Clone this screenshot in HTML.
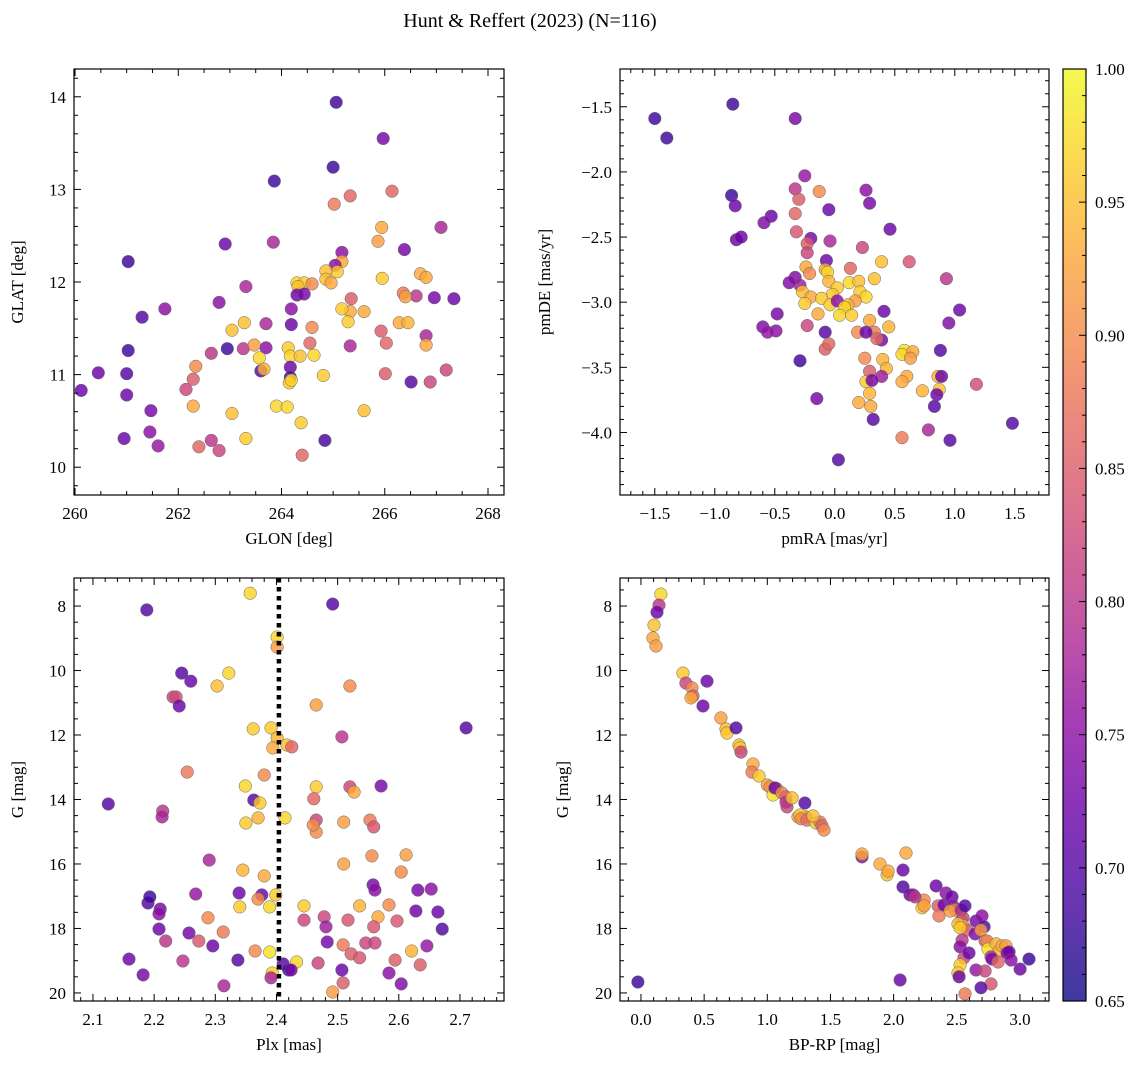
<!DOCTYPE html>
<html><head><meta charset="utf-8"><title>Hunt & Reffert (2023)</title>
<style>
html,body{margin:0;padding:0;background:#fff;}
svg{display:block;font-family:"Liberation Serif","DejaVu Serif",serif;}
</style></head>
<body>
<svg id="chart" width="1148" height="1068" viewBox="0 0 1148 1068" xmlns="http://www.w3.org/2000/svg">
<defs>
<linearGradient id="plasma" x1="0" y1="1" x2="0" y2="0">
<stop offset="0" stop-color="#0d0887"/><stop offset="0.1" stop-color="#41049d"/><stop offset="0.2" stop-color="#6a00a8"/><stop offset="0.3" stop-color="#8f0da4"/><stop offset="0.4" stop-color="#b12a90"/><stop offset="0.5" stop-color="#cc4778"/><stop offset="0.6" stop-color="#e16462"/><stop offset="0.7" stop-color="#f2844b"/><stop offset="0.8" stop-color="#fca636"/><stop offset="0.9" stop-color="#fcce25"/><stop offset="1" stop-color="#f0f921"/>
</linearGradient>
</defs>
<text x="530" y="27" font-size="20" text-anchor="middle">Hunt &amp; Reffert (2023) (N=116)</text>
</svg>
<script>
// ---- Panel 1: GLON / GLAT ----
const glonA=[265.06,265.97,265.00,263.86,265.33,266.14,265.02,265.94,267.09,261.03,262.91,263.84,265.17,265.87,266.38,265.17,263.31,265.04,265.08,264.86,264.86,264.96,264.30,264.44,264.32,264.59,265.95,266.69,266.80,264.30,264.44,266.96,267.34,266.36,266.61,266.40,261.74,261.30,262.79,265.35,265.33,265.17,265.29,265.60,266.28,266.45,266.80,264.19,263.70,263.28,263.04,264.19,264.59,263.70,263.26,263.47,265.33,265.93,266.03,266.80,264.55,264.13,264.17,264.63,264.36,263.57,263.60,263.66,264.17,264.17,264.15,264.19,264.81,262.64,262.95,262.34,262.29,262.15,261.03,260.45,261.00,260.12,261.00,261.47,261.45,261.61,260.95,262.29,263.04,263.90,264.11,265.60,264.38,263.31,262.40,262.64,262.79,264.40,264.84,266.51,267.19,266.88,266.01];
const glatA=[13.94,13.55,13.24,13.09,12.93,12.98,12.84,12.59,12.59,12.22,12.41,12.43,12.32,12.44,12.35,12.22,11.95,12.18,12.11,12.12,12.03,11.99,11.99,11.99,11.95,11.98,12.04,12.09,12.05,11.86,11.87,11.83,11.82,11.88,11.85,11.84,11.71,11.62,11.78,11.82,11.68,11.71,11.57,11.68,11.56,11.56,11.42,11.54,11.55,11.56,11.48,11.71,11.51,11.29,11.28,11.32,11.31,11.47,11.34,11.32,11.34,11.29,11.20,11.21,11.20,11.18,11.04,11.06,11.08,10.97,10.91,10.94,10.99,11.23,11.28,11.09,10.95,10.84,11.26,11.02,11.01,10.83,10.78,10.61,10.38,10.23,10.31,10.66,10.58,10.66,10.65,10.61,10.48,10.31,10.22,10.29,10.18,10.13,10.29,10.92,11.05,10.92,11.01];
const probA=[0.68,0.73,0.68,0.68,0.86,0.86,0.88,0.93,0.78,0.68,0.72,0.78,0.75,0.92,0.73,0.93,0.78,0.75,0.96,0.95,0.95,0.93,0.97,0.96,0.95,0.9,0.96,0.93,0.93,0.72,0.73,0.73,0.72,0.88,0.8,0.92,0.75,0.7,0.75,0.85,0.93,0.96,0.96,0.93,0.93,0.94,0.78,0.72,0.78,0.95,0.95,0.75,0.9,0.75,0.8,0.92,0.78,0.85,0.86,0.93,0.86,0.96,0.97,0.97,0.95,0.97,0.7,0.94,0.72,0.68,0.96,0.97,0.96,0.8,0.68,0.9,0.85,0.82,0.68,0.72,0.7,0.72,0.72,0.73,0.75,0.76,0.72,0.93,0.95,0.97,0.97,0.95,0.96,0.96,0.86,0.8,0.82,0.86,0.69,0.7,0.82,0.82,0.85];
// ---- Panel 2: pmRA / pmDE ----
const pmraB=[-1.50,-1.40,-0.85,-0.33,-0.86,-0.83,-0.82,-0.78,-0.53,-0.59,-0.33,-0.25,-0.30,-0.13,-0.05,0.26,0.29,-0.33,-0.20,-0.32,-0.23,-0.23,-0.04,0.23,0.46,0.39,0.13,-0.07,-0.08,-0.24,-0.21,-0.33,-0.29,-0.38,-0.27,-0.20,-0.06,-0.05,0.02,-0.02,0.12,0.20,0.33,0.21,0.26,0.17,0.11,-0.11,-0.04,0.02,0.08,0.14,-0.25,-0.14,0.04,-0.48,-0.49,-0.60,-0.56,-0.23,-0.08,-0.08,-0.05,0.19,0.33,0.41,0.45,0.39,0.29,0.26,0.35,0.58,0.56,0.65,0.95,1.04,0.93,0.62,-0.29,0.25,0.40,0.43,0.29,0.39,0.63,0.60,0.26,0.29,0.31,0.56,0.86,0.73,0.87,0.85,0.89,0.83,1.18,1.48,0.96,0.78,0.56,0.20,0.30,0.32,-0.15,0.03,0.88];
const pmdeB=[-1.59,-1.74,-1.48,-1.59,-2.18,-2.26,-2.52,-2.50,-2.34,-2.39,-2.13,-2.03,-2.21,-2.15,-2.29,-2.14,-2.24,-2.32,-2.51,-2.46,-2.55,-2.62,-2.53,-2.58,-2.44,-2.69,-2.74,-2.68,-2.75,-2.73,-2.78,-2.81,-2.87,-2.85,-2.92,-2.96,-2.77,-2.84,-2.89,-2.94,-2.85,-2.84,-2.82,-2.92,-2.96,-2.99,-3.02,-2.97,-3.02,-2.99,-3.04,-3.10,-3.01,-3.09,-3.10,-3.09,-3.22,-3.19,-3.23,-3.18,-3.23,-3.36,-3.32,-3.23,-3.23,-3.07,-3.19,-3.29,-3.14,-3.23,-3.28,-3.37,-3.40,-3.38,-3.16,-3.06,-2.82,-2.69,-3.45,-3.43,-3.44,-3.51,-3.53,-3.57,-3.43,-3.57,-3.61,-3.70,-3.60,-3.61,-3.57,-3.68,-3.67,-3.71,-3.57,-3.80,-3.63,-3.93,-4.06,-3.98,-4.04,-3.77,-3.80,-3.90,-3.74,-4.21,-3.37];
const probB=[0.68,0.68,0.68,0.73,0.68,0.72,0.72,0.72,0.72,0.74,0.8,0.76,0.85,0.9,0.72,0.75,0.73,0.86,0.73,0.84,0.85,0.82,0.78,0.82,0.72,0.95,0.86,0.72,0.93,0.93,0.9,0.74,0.77,0.74,0.95,0.93,0.97,0.94,0.96,0.96,0.97,0.95,0.95,0.96,0.97,0.92,0.94,0.96,0.96,0.75,0.97,0.96,0.96,0.93,0.97,0.73,0.75,0.74,0.76,0.82,0.7,0.85,0.86,0.9,0.88,0.72,0.94,0.73,0.93,0.72,0.86,0.98,0.97,0.93,0.74,0.72,0.8,0.84,0.68,0.9,0.94,0.94,0.85,0.77,0.92,0.93,0.96,0.94,0.73,0.93,0.94,0.94,0.95,0.72,0.72,0.7,0.83,0.7,0.7,0.78,0.88,0.93,0.93,0.7,0.73,0.7,0.7];
// ---- Panel 3: Plx / G ----
const plxC=[2.357,2.492,2.188,2.401,2.401,2.322,2.303,2.520,2.245,2.260,2.231,2.236,2.241,2.465,2.391,2.362,2.401,2.394,2.417,2.425,2.507,2.710,2.254,2.465,2.380,2.349,2.461,2.520,2.527,2.571,2.363,2.373,2.125,2.214,2.213,2.370,2.350,2.414,2.465,2.465,2.510,2.553,2.559,2.460,2.290,2.556,2.510,2.612,2.604,2.558,2.380,2.345,2.376,2.370,2.389,2.399,2.339,2.268,2.288,2.340,2.445,2.445,2.478,2.481,2.517,2.536,2.584,2.561,2.631,2.653,2.664,2.671,2.628,2.597,2.566,2.559,2.190,2.193,2.210,2.208,2.208,2.257,2.219,2.273,2.296,2.313,2.159,2.182,2.247,2.337,2.365,2.389,2.411,2.433,2.393,2.420,2.468,2.483,2.509,2.507,2.522,2.536,2.546,2.561,2.584,2.594,2.621,2.635,2.646,2.604,2.509,2.492,2.314,2.391,2.424];
const gC=[7.60,7.94,8.12,8.96,9.27,10.08,10.48,10.48,10.08,10.33,10.82,10.82,11.10,11.07,11.78,11.81,12.09,12.40,12.31,12.37,12.06,11.78,13.15,13.61,13.24,13.58,13.98,13.61,13.77,13.58,14.02,14.11,14.14,14.36,14.54,14.57,14.73,14.57,14.64,15.01,14.70,14.64,14.85,14.79,15.88,15.75,16.00,15.72,16.25,16.65,16.37,16.19,16.96,17.09,17.33,16.96,16.90,16.93,17.67,17.33,17.30,17.74,17.64,17.95,17.74,17.30,17.27,16.81,16.81,16.78,17.49,18.02,17.46,17.77,17.64,17.95,17.21,17.02,17.40,17.55,18.02,18.14,18.39,18.39,18.54,18.11,18.95,19.44,19.01,18.98,18.70,18.73,19.10,19.04,19.38,19.29,19.07,18.42,18.51,19.29,18.79,18.91,18.45,18.45,19.38,18.98,18.70,19.13,18.54,19.72,19.69,19.97,19.78,19.53,19.29];
const probC=[0.97,0.7,0.7,0.97,0.92,0.97,0.95,0.9,0.7,0.72,0.82,0.83,0.72,0.92,0.96,0.96,0.94,0.93,0.95,0.86,0.8,0.7,0.88,0.96,0.9,0.97,0.86,0.82,0.93,0.73,0.7,0.96,0.7,0.8,0.78,0.94,0.96,0.97,0.82,0.9,0.92,0.88,0.84,0.9,0.78,0.9,0.92,0.92,0.9,0.73,0.93,0.94,0.72,0.9,0.97,0.96,0.72,0.76,0.9,0.96,0.96,0.82,0.82,0.77,0.84,0.94,0.9,0.75,0.73,0.75,0.72,0.7,0.72,0.84,0.93,0.84,0.7,0.68,0.73,0.75,0.72,0.73,0.8,0.84,0.72,0.88,0.72,0.73,0.8,0.7,0.9,0.98,0.7,0.97,0.96,0.68,0.82,0.73,0.88,0.72,0.85,0.84,0.82,0.82,0.75,0.85,0.94,0.85,0.76,0.74,0.85,0.92,0.78,0.78,0.73];
// ---- Panel 4: BP-RP / G ----
const bprpD=[0.158,0.143,0.127,0.103,0.095,0.119,0.333,0.356,0.404,0.412,0.396,0.491,0.523,0.633,0.673,0.681,0.752,0.776,0.784,0.792,0.887,0.879,0.934,1.000,1.021,1.077,1.045,1.061,1.116,1.148,1.156,1.148,1.196,1.298,1.243,1.306,1.259,1.267,1.314,1.386,1.417,1.433,1.449,1.362,1.750,1.750,1.892,1.948,1.956,2.098,2.074,2.074,2.130,2.154,2.241,2.225,2.241,2.169,2.336,2.352,2.359,2.399,2.415,2.462,2.470,2.486,2.447,2.534,2.550,2.534,2.565,2.550,2.581,2.510,2.526,2.542,2.526,2.557,2.597,2.645,2.652,2.700,2.716,2.692,2.724,2.740,2.747,2.811,2.835,2.858,2.890,2.898,2.771,2.779,2.827,2.914,2.930,3.001,3.072,2.652,2.724,2.771,2.692,2.526,2.510,2.518,2.565,-0.024,2.051];
const gD=[7.63,7.97,8.19,8.59,8.99,9.24,10.08,10.39,10.54,10.79,10.85,11.10,10.33,11.47,11.81,11.94,11.78,12.31,12.40,12.53,12.90,13.15,13.27,13.55,13.61,13.67,13.86,13.64,13.80,13.92,14.23,14.08,13.95,14.11,14.54,14.54,14.48,14.60,14.64,14.73,14.70,14.82,14.95,14.51,15.78,15.69,16.00,16.34,16.22,15.66,16.19,16.71,16.96,16.96,17.12,17.36,17.30,17.02,16.68,17.30,17.61,17.27,16.90,17.02,17.30,17.43,17.46,17.43,17.67,17.77,17.30,17.92,18.05,17.86,17.98,18.36,18.57,18.91,18.76,18.17,17.77,17.61,17.95,18.05,18.39,18.39,18.64,18.48,18.70,18.54,18.54,18.76,18.88,18.95,19.04,18.73,18.98,19.26,18.95,19.29,19.32,19.72,19.84,19.13,19.38,19.50,20.03,19.66,19.60];
const probD=[0.97,0.8,0.72,0.95,0.93,0.92,0.96,0.82,0.9,0.85,0.93,0.72,0.72,0.92,0.94,0.96,0.7,0.95,0.96,0.82,0.93,0.88,0.96,0.93,0.9,0.94,0.98,0.72,0.9,0.86,0.82,0.8,0.95,0.7,0.93,0.9,0.96,0.9,0.87,0.96,0.88,0.86,0.9,0.95,0.75,0.93,0.93,0.95,0.93,0.93,0.72,0.7,0.72,0.75,0.9,0.96,0.92,0.8,0.72,0.85,0.88,0.72,0.75,0.72,0.76,0.9,0.92,0.78,0.82,0.84,0.7,0.94,0.85,0.95,0.96,0.8,0.75,0.82,0.72,0.74,0.73,0.75,0.7,0.92,0.86,0.9,0.98,0.94,0.94,0.93,0.92,0.74,0.8,0.73,0.86,0.72,0.75,0.72,0.68,0.76,0.82,0.84,0.7,0.96,0.96,0.72,0.88,0.68,0.72];
const plxRef=[2.404];
const cbTicks=[0.65,0.70,0.75,0.80,0.85,0.90,0.95,1.00];

const NS="http://www.w3.org/2000/svg";
const svg=document.getElementById('chart');
function mk(tag,attrs,parent){const e=document.createElementNS(NS,tag);for(const k in attrs)e.setAttribute(k,attrs[k]);(parent||svg).appendChild(e);return e;}
const stops=["#0d0887","#41049d","#6a00a8","#8f0da4","#b12a90","#cc4778","#e16462","#f2844b","#fca636","#fcce25","#f0f921"];
function hex(h){return [parseInt(h.substr(1,2),16),parseInt(h.substr(3,2),16),parseInt(h.substr(5,2),16)];}
function plasma(v){let t=(v-0.65)/0.35;t=Math.max(0,Math.min(1,t));const s=t*10,i=Math.min(9,Math.floor(s)),f=s-i;const a=hex(stops[i]),b=hex(stops[i+1]);return 'rgb('+a.map((x,k)=>Math.round(x+(b[k]-x)*f)).join(',')+')';}

function fmt(v,d){let s=v.toFixed(d);if(v<0)s='\u2212'+s.substr(1);return s;}
function panel(p){
  const g=mk('g',{});
  
  
  const sx=v=>p.x0+(v-p.xmin)/(p.xmax-p.xmin)*(p.x1-p.x0);
  const sy=p.inv?(v=>p.y0+(v-p.ymin)/(p.ymax-p.ymin)*(p.y1-p.y0)):(v=>p.y1-(v-p.ymin)/(p.ymax-p.ymin)*(p.y1-p.y0));
  const pg=mk('g',{},g);
  
  
  for(let i=0;i<p.xs.length;i++){
    const c=mk('circle',{cx:sx(p.xs[i]).toFixed(1),cy:sy(p.ys[i]).toFixed(1),r:6.3,fill:plasma(p.cs[i]),'fill-opacity':0.82,stroke:'#666','stroke-width':0.5},pg);
    
    
  }
  if(p.extra)p.extra(g,sx,sy);
  const fr=mk('rect',{x:p.x0,y:p.y0,width:p.x1-p.x0,height:p.y1-p.y0,fill:'none',stroke:'#000','stroke-width':1.2},g);
  
  
  const xt=mk('g',{},g);
  
  
  for(let k=Math.ceil(p.xmin/p.xminor-1e-6);k*p.xminor<=p.xmax+1e-9;k++){
    const v=k*p.xminor;const X=sx(v);
    const isMaj=Math.abs(v/p.xmajor-Math.round(v/p.xmajor))<1e-6;
    const L=isMaj?7:4;
    mk('line',{x1:X,x2:X,y1:p.y1,y2:p.y1-L,stroke:'#000','stroke-width':1},xt);
    mk('line',{x1:X,x2:X,y1:p.y0,y2:p.y0+L,stroke:'#000','stroke-width':1},xt);
    if(isMaj){const t=mk('text',{x:X,y:p.y1+24,'font-size':17,'text-anchor':'middle'},xt);t.textContent=fmt(v,p.xd);
      }
  }
  const xl=mk('text',{x:(p.x0+p.x1)/2,y:p.y1+49,'font-size':17,'text-anchor':'middle'},g);xl.textContent=p.xlabel;
  
  const yt=mk('g',{},g);
  
  
  for(let k=Math.ceil(p.ymin/p.yminor-1e-6);k*p.yminor<=p.ymax+1e-9;k++){
    const v=k*p.yminor;const Y=sy(v);
    const isMaj=Math.abs(v/p.ymajor-Math.round(v/p.ymajor))<1e-6;
    const L=isMaj?7:4;
    mk('line',{x1:p.x0,x2:p.x0+L,y1:Y,y2:Y,stroke:'#000','stroke-width':1},yt);
    mk('line',{x1:p.x1,x2:p.x1-L,y1:Y,y2:Y,stroke:'#000','stroke-width':1},yt);
    if(isMaj){const t=mk('text',{x:p.x0-8,y:Y+6,'font-size':17,'text-anchor':'end'},yt);t.textContent=fmt(v,p.yd);
      }
  }
  const yl=mk('text',{x:0,y:0,'font-size':17,'text-anchor':'middle',transform:'translate('+p.ylx+','+((p.y0+p.y1)/2)+') rotate(-90)'},g);yl.textContent=p.ylabel;
  
}
panel({name:'glon-glat-panel',x0:74,x1:504,y0:69,y1:495,xmin:259.98,xmax:268.31,ymin:9.70,ymax:14.30,xmajor:2,xminor:0.5,ymajor:1,yminor:0.2,xd:0,yd:0,xs:glonA,ys:glatA,cs:probA,xlabel:'GLON [deg]',ylabel:'GLAT [deg]',ylx:23});
panel({name:'proper-motion-panel',x0:620,x1:1049,y0:69,y1:495,xmin:-1.79,xmax:1.785,ymin:-4.48,ymax:-1.21,xmajor:0.5,xminor:0.1,ymajor:0.5,yminor:0.1,xd:1,yd:1,xs:pmraB,ys:pmdeB,cs:probB,xlabel:'pmRA [mas/yr]',ylabel:'pmDE [mas/yr]',ylx:550});
panel({name:'parallax-mag-panel',x0:74,x1:504,y0:578,y1:1001,xmin:2.069,xmax:2.772,ymin:7.13,ymax:20.25,inv:true,xmajor:0.1,xminor:0.02,ymajor:2,yminor:0.5,xd:1,yd:0,xs:plxC,ys:gC,cs:probC,xlabel:'Plx [mas]',ylabel:'G [mag]',ylx:23,
 extra:(g,sx,sy)=>{for(const v of plxRef){const l=mk('line',{x1:sx(v),x2:sx(v),y1:578,y2:1001,stroke:'#000','stroke-width':4.5,'stroke-dasharray':'4.5,4.5'},g);
  }}});
panel({name:'cmd-panel',x0:620,x1:1049,y0:578,y1:1001,xmin:-0.166,xmax:3.23,ymin:7.13,ymax:20.25,inv:true,xmajor:0.5,xminor:0.1,ymajor:2,yminor:0.5,xd:1,yd:0,xs:bprpD,ys:gD,cs:probD,xlabel:'BP-RP [mag]',ylabel:'G [mag]',ylx:568});
const cb=mk('g',{});


mk('rect',{x:1063,y:69,width:23,height:932,fill:'url(#plasma)','fill-opacity':0.8},cb);
mk('rect',{x:1063,y:69,width:23,height:932,fill:'none',stroke:'#000','stroke-width':1.2},cb);
const cy=v=>1001-(v-0.65)/0.35*932;
for(let k=65;k<=100;k++){const Y=cy(k/100);const maj=k%5===0;
  mk('line',{x1:1086,x2:1086-(maj?7:4),y1:Y,y2:Y,stroke:'#000','stroke-width':1},cb);}
for(const v of cbTicks){const t=mk('text',{x:1095,y:cy(v)+6,'font-size':17},cb);t.textContent=v.toFixed(2);
  }
</script>
</body></html>
